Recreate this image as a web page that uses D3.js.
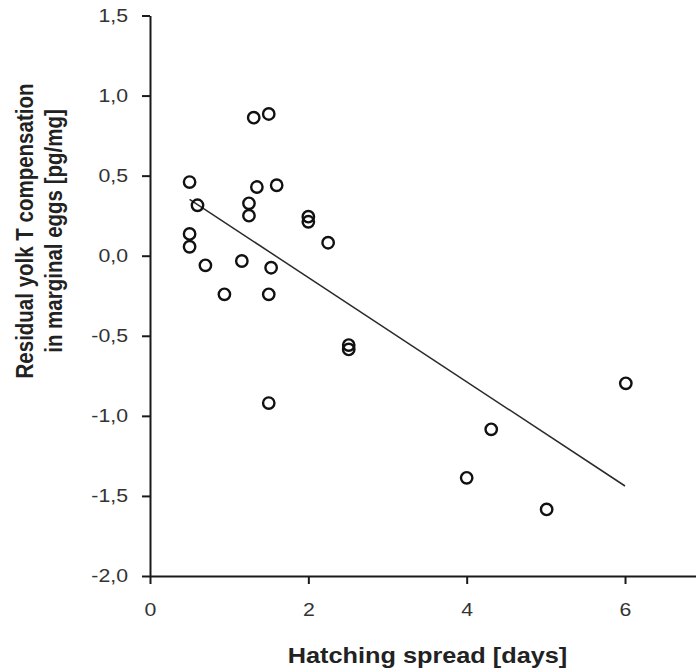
<!DOCTYPE html>
<html>
<head>
<meta charset="utf-8">
<script src="https://cdn.jsdelivr.net/npm/d3@7"></script>
<style>
  html, body { margin: 0; padding: 0; background: #fff; }
  svg { display: block; }
  text { font-family: "Liberation Sans", Arial, Helvetica, sans-serif; }
</style>
</head>
<body>
<script>
// ---- data ----
const hatchingSpread = [1.31, 1.50, 0.50, 1.35, 1.60, 0.60, 1.25, 1.25, 2.00, 2.00,
                        0.50, 0.50, 2.25, 0.70, 1.16, 1.53, 0.94, 1.50, 2.51, 2.51,
                        6.01, 4.31, 4.00, 5.01, 1.50];
const residualT      = [0.862, 0.885, 0.460, 0.429, 0.440, 0.315, 0.327, 0.250, 0.244, 0.212,
                        0.136, 0.056, 0.081, -0.060, -0.033, -0.075, -0.241, -0.241, -0.558, -0.585,
                        -0.797, -1.084, -1.387, -1.584, -0.920];
const fitX = [0.5, 6.0];
const fitY = [0.352, -1.438];
const xTicks = [0, 2, 4, 6];
const yTicks = [-2.0, -1.5, -1.0, -0.5, 0.0, 0.5, 1.0, 1.5];
const xTitle = "Hatching spread [days]";
const yTitleLines = ["Residual yolk T compensation", "in marginal eggs [pg/mg]"];

// ---- layout ----
const W = 696, H = 671;
const hs = 1.15; // horizontal text stretch seen in the reference

const svg = d3.select("body").append("svg").attr("width", W).attr("height", H);

const x = d3.scaleLinear().domain([0, 7]).range([150, 150 + 7 * 79.17]);
const y = d3.scaleLinear().domain([-2, 1.5]).range([576, 15.5]);

const fmtComma = d => d.toFixed(1).replace(".", ",");

// x axis
const gx = svg.append("g").attr("transform", `translate(0,${y(-2)})`)
  .call(d3.axisBottom(x).tickValues(xTicks).tickSize(8).tickSizeOuter(0).tickPadding(19).tickFormat(d => String(d)));
// y axis
const gy = svg.append("g").attr("transform", `translate(${x(0)},0)`)
  .call(d3.axisLeft(y).tickValues(yTicks).tickSize(8).tickSizeOuter(0).tickPadding(14).tickFormat(fmtComma));

[gx, gy].forEach(g => {
  g.select(".domain").attr("stroke", "#1a1a1a").attr("stroke-width", 2);
  g.selectAll(".tick line").attr("stroke", "#1a1a1a").attr("stroke-width", 2);
  g.selectAll(".tick text").attr("fill", "#333").attr("font-size", 18.5)
    .attr("font-family", "Liberation Sans, Arial, sans-serif");
});
gx.selectAll(".tick text").attr("transform", `scale(${hs},1)`);
gy.selectAll(".tick text").attr("x", -22 / hs).attr("transform", `scale(${hs},1)`);

// regression line
svg.append("path")
  .datum(fitX.map((d, i) => [d, fitY[i]]))
  .attr("d", d3.line().x(d => x(d[0])).y(d => y(d[1])))
  .attr("fill", "none").attr("stroke", "#2a2a2a").attr("stroke-width", 1.5);

// points
svg.append("g").selectAll("circle")
  .data(hatchingSpread.map((d, i) => [d, residualT[i]]))
  .join("circle")
  .attr("cx", d => x(d[0])).attr("cy", d => y(d[1]))
  .attr("r", 5.7)
  .attr("fill", "none").attr("stroke", "#111").attr("stroke-width", 2.4);

// x title
svg.append("text")
  .attr("transform", `translate(427.5,663) scale(${hs},1)`)
  .attr("text-anchor", "middle")
  .attr("font-size", 22).attr("font-weight", "bold").attr("fill", "#222")
  .text(xTitle);

// y title (two lines)
const gyt = svg.append("g").attr("transform", "translate(0,231) rotate(-90)");
gyt.selectAll("text").data(yTitleLines).join("text")
  .attr("transform", `scale(1,${hs})`)
  .attr("x", 0)
  .attr("y", (d, i) => [33, 62][i] / hs)
  .attr("text-anchor", "middle")
  .attr("font-size", 20.5).attr("font-weight", "bold").attr("fill", "#222")
  .text(d => d);
</script>
</body>
</html>
